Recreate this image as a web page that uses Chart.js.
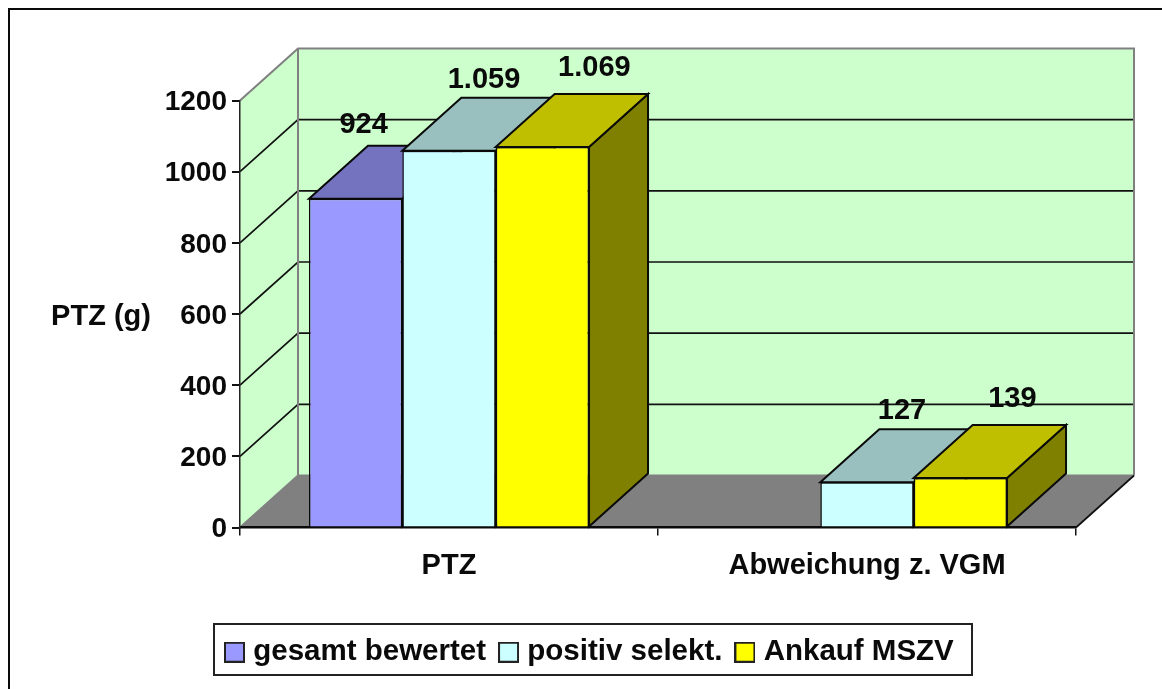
<!DOCTYPE html>
<html><head><meta charset="utf-8">
<style>html,body{margin:0;padding:0;background:#fff}canvas{display:block}</style>
<script src="https://cdn.jsdelivr.net/npm/chart.js@4/dist/chart.umd.js"></script>
</head><body><canvas id="c" width="1162" height="689"></canvas>
<script>
const categories = ["PTZ", "Abweichung z. VGM"];
const seriesNames = ["gesamt bewertet", "positiv selekt.", "Ankauf MSZV"];
const gesamtBewertet = [924, null];
const positivSelekt = [1059, 127];
const ankaufMSZV = [1069, 139];
const valueLabelsGesamt = ["924", ""];
const valueLabelsPositiv = ["1.059", "127"];
const valueLabelsAnkauf = ["1.069", "139"];
const axisTitle = "PTZ (g)";
const FAMILY = '"Liberation Sans", Arial, sans-serif';
const FONT = 'bold 29px ' + FAMILY;
const front = ["#9999FF", "#CCFFFF", "#FFFF00"];
const top3d = ["#7373BF", "#99BFBF", "#BFBF00"];
const side3d = ["#4D4D80", "#668080", "#808000"];
const labelOffsets = [[8,-74],[35,-71],[52,-79]];
const valueLabels = [valueLabelsGesamt, valueLabelsPositiv, valueLabelsAnkauf];
const DX = 58, DY = 52, BDX = 59, BDY = 53;

function swatch(color){
  const s = document.createElement('canvas'); s.width = 21; s.height = 21;
  const g = s.getContext('2d');
  g.fillStyle = color; g.fillRect(0,0,21,21);
  g.strokeStyle = '#222'; g.lineWidth = 2; g.strokeRect(1,1,19,19);
  return s;
}
function poly(ctx, pts, fill, stroke, lw){
  ctx.beginPath(); pts.forEach((p,i)=> i?ctx.lineTo(p[0],p[1]):ctx.moveTo(p[0],p[1])); ctx.closePath();
  if(fill){ctx.fillStyle=fill;ctx.fill();}
  if(stroke){ctx.strokeStyle=stroke;ctx.lineWidth=lw||1;ctx.stroke();}
}
const threeD = {
  id:'threeD',
  afterLayout(chart){
    const l = chart.legend;
    const h = l.height, w = l.width;
    l.left = 212; l.right = 212 + w; l.top = 619; l.bottom = 619 + h;
  },
  beforeDraw(chart){
    const ctx = chart.ctx, a = chart.chartArea, y = chart.scales.y;
    ctx.save();
    ctx.fillStyle = '#fff'; ctx.fillRect(0,0,chart.width,chart.height);
    ctx.strokeStyle = '#0a0a0a'; ctx.lineWidth = 2;
    ctx.beginPath(); ctx.moveTo(9,689); ctx.lineTo(9,9); ctx.lineTo(1162,9); ctx.stroke();
    const L=a.left,R=a.right,T=a.top,B=a.bottom;
    poly(ctx,[[L,B],[L+DX,B-DY],[R+DX,B-DY],[R,B]],'#808080');
    poly(ctx,[[L,T],[L+DX,T-DY],[L+DX,B-DY],[L,B]],'#CCFFCC');
    poly(ctx,[[L+DX,T-DY],[R+DX,T-DY],[R+DX,B-DY],[L+DX,B-DY]],'#CCFFCC');
    ctx.lineWidth=1.7; ctx.strokeStyle='#111';
    y.ticks.forEach(t=>{
      if(t.value===0||t.value===y.max) return;
      const py=y.getPixelForValue(t.value);
      ctx.beginPath(); ctx.moveTo(L,py); ctx.lineTo(L+DX,py-DY); ctx.lineTo(R+DX,py-DY); ctx.stroke();
    });
    ctx.strokeStyle='#808080'; ctx.lineWidth=2;
    ctx.beginPath(); ctx.moveTo(L,T); ctx.lineTo(L+DX,T-DY); ctx.lineTo(R+DX,T-DY); ctx.lineTo(R+DX,B-DY); ctx.moveTo(L+DX,T-DY); ctx.lineTo(L+DX,B-DY); ctx.lineTo(R+DX,B-DY); ctx.moveTo(L+DX,B-DY);ctx.lineTo(L,B); ctx.stroke();
    ctx.strokeStyle='#111'; ctx.lineWidth=1.7;
    ctx.beginPath(); ctx.moveTo(R,B); ctx.lineTo(R+DX,B-DY); ctx.stroke();
    ctx.strokeStyle='#222'; ctx.lineWidth=2;
    ctx.strokeRect(214,624,758,51);
    ctx.restore();
  },
  beforeDatasetsDraw(chart){
    const ctx = chart.ctx;
    ctx.save();
    const line='#0a0a0a';
    chart.data.datasets.forEach((ds,i)=>{
      chart.getDatasetMeta(i).data.forEach((el,j)=>{
        if(ds.data[j]==null) return;
        const l=el.x-el.width/2, r=el.x+el.width/2, t=el.y, b=el.base;
        poly(ctx,[[r,t],[r+BDX,t-BDY],[r+BDX,b-BDY],[r,b]],side3d[i],line,2);
        poly(ctx,[[l,t],[l+BDX,t-BDY],[r+BDX,t-BDY],[r,t]],top3d[i],line,2);
        el.draw(ctx);
      });
    });
    ctx.font=FONT; ctx.fillStyle='#0a0a0a'; ctx.textAlign='center'; ctx.textBaseline='middle';
    chart.data.datasets.forEach((ds,i)=>{
      chart.getDatasetMeta(i).data.forEach((el,j)=>{
        const s=valueLabels[i][j]; if(!s) return;
        ctx.fillText(s, el.x+labelOffsets[i][0], el.y+labelOffsets[i][1]);
      });
    });
    ctx.fillText(axisTitle,101,317);
    ctx.restore();
    return false;
  }
};
new Chart(document.getElementById('c'),{
  type:'bar',
  data:{labels:categories,datasets:[gesamtBewertet,positivSelekt,ankaufMSZV].map((d,i)=>({
    label:seriesNames[i],data:d,backgroundColor:front[i],borderColor:'#0a0a0a',borderWidth:1.5
  }))},
  options:{
    responsive:false,animation:false,
    layout:{padding:{top:100.5,left:0,right:86,bottom:0}},
    datasets:{bar:{barPercentage:1,categoryPercentage:0.67}},
    plugins:{
      tooltip:{enabled:false},
      title:{display:false},
      legend:{position:'bottom',align:'start',labels:{
        usePointStyle:true,pointStyleWidth:8,boxHeight:21,padding:18.5,
        font:{family:FAMILY,size:29.5,weight:'bold'},color:'#0a0a0a',
        generateLabels(chart){
          return Chart.defaults.plugins.legend.labels.generateLabels(chart).map((it,i)=>({...it,pointStyle:swatch(front[i])}));
        }
      }}
    },
    scales:{
      x:{
        afterFit(s){s.height=103.5;},
        grid:{drawOnChartArea:false,drawTicks:true,tickLength:8,color:'#111',lineWidth:1.5},
        border:{color:'#0a0a0a',width:2.5},
        ticks:{color:'#0a0a0a',padding:13,maxRotation:0,font:{family:FAMILY,size:29,weight:'bold'}}
      },
      y:{
        min:0,max:1200,
        afterFit(s){s.width=240;},
        grid:{drawOnChartArea:false,drawTicks:true,tickLength:8,color:'#111',lineWidth:2},
        border:{color:'#222',width:1.5},
        ticks:{stepSize:200,color:'#0a0a0a',padding:5,labelOffset:2,callback:v=>String(v),font:{family:FAMILY,size:28,weight:'bold'}}
      }
    }
  },
  plugins:[threeD]
});
</script></body></html>
